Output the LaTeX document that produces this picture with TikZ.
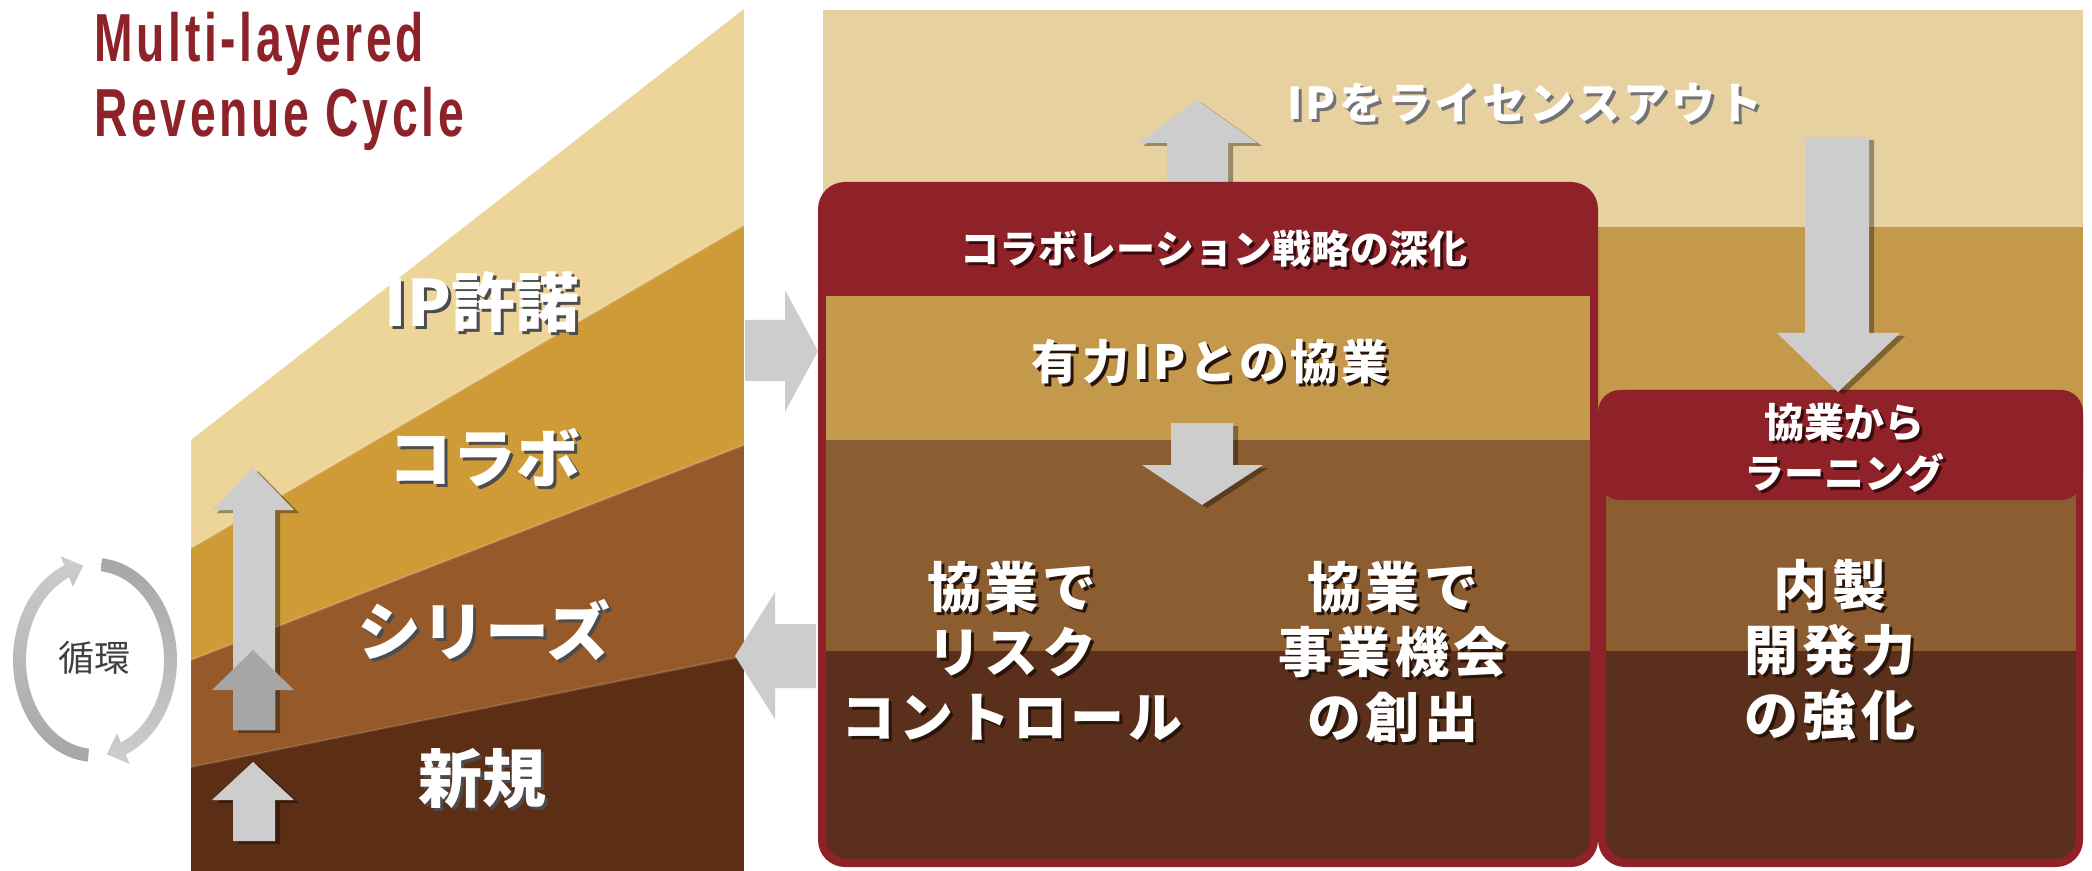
\documentclass[tikz,border=0pt]{standalone}
\usepackage{fontspec}
\setmainfont{Liberation Sans}
\newfontfamily\titlefont[LetterSpace=8]{Liberation Sans}
\newfontfamily\jp{Noto Sans CJK JP}
\newfontfamily\jpsp[LetterSpace=8]{Noto Sans CJK JP}
\newfontfamily\jpspb[LetterSpace=6]{Noto Sans CJK JP}
\usetikzlibrary{shadows}
\definecolor{titlered}{RGB}{142,34,41}
\definecolor{tanL}{RGB}{237,212,153}
\definecolor{goldL}{RGB}{206,155,55}
\definecolor{brownL}{RGB}{150,90,42}
\definecolor{darkL}{RGB}{92,46,22}
\definecolor{tanR}{RGB}{232,209,160}
\definecolor{goldR}{RGB}{196,153,75}
\definecolor{brownR}{RGB}{139,93,49}
\definecolor{darkR}{RGB}{90,47,27}
\definecolor{boxred}{RGB}{143,34,41}
\definecolor{agray}{RGB}{205,205,205}
\definecolor{adark}{RGB}{166,166,166}
\definecolor{shdred}{RGB}{60,10,14}
\definecolor{shdbrown}{RGB}{40,20,8}
\tikzset{
  txt/.style={inner sep=0pt, align=center},
  garrow/.style={fill=agray},
  sharrow/.style={fill=agray, drop shadow={shadow xshift=2.5pt, shadow yshift=-1.5pt, opacity=0.35, fill=black}},
}
\newcommand\shtxt[5]{%
  \node[txt, font=#3, text=#4] at ([shift={(3,3)}]#2) {#5};
  \node[txt, font=#3, text=white] (#1) at (#2) {#5};}
\begin{document}
\begin{tikzpicture}[x=0.5pt,y=-0.5pt]
\useasboundingbox (0,0) rectangle (2092,871);
\fill[white] (0,0) rectangle (2092,871);

% ---------- title
\node[inner sep=0pt, anchor=base west, text=titlered, font=\titlefont\bfseries\fontsize{34pt}{37pt}\selectfont] (t1) at (94,62) {\scalebox{0.68}[1]{Multi-layered}};
\node[inner sep=0pt, anchor=base west, text=titlered, font=\titlefont\bfseries\fontsize{34pt}{37pt}\selectfont] (t2) at (94,137) {\scalebox{0.68}[1]{Revenue Cycle}};

% ---------- left panel
\begin{scope}
\clip (191,440) -- (744,9) -- (744,871) -- (191,871) -- cycle;
\fill[tanL] (191,0) rectangle (744,871);
\fill[goldL] (191,548) -- (744,225) -- (744,871) -- (191,871) -- cycle;
\fill[brownL] (191,660) -- (744,445) -- (744,871) -- (191,871) -- cycle;
\fill[darkL] (191,767) -- (744,656) -- (744,871) -- (191,871) -- cycle;
\draw[white, opacity=0.25, line width=1pt] (191,548) -- (744,225);
\draw[white, opacity=0.2, line width=1pt] (191,660) -- (744,445);
\draw[white, opacity=0.15, line width=1pt] (191,767) -- (744,656);
\end{scope}

% arrows in left panel
\fill[sharrow] (233,730) -- (233,510) -- (212,510) -- (253,468) -- (294,510) -- (275,510) -- (275,730) -- cycle;
\fill[adark] (233,730) -- (233,690) -- (212,690) -- (253,650) -- (294,690) -- (275,690) -- (275,730) -- cycle;
\fill[sharrow] (233,841) -- (233,800) -- (212,800) -- (253,762) -- (294,800) -- (275,800) -- (275,841) -- cycle;

% cycle arrows
\begin{scope}[shift={(95,660)}]
\shade[top color=agray, bottom color=adark]
  (-265:82 and 102) arc[start angle=-265, end angle=-112, x radius=82, y radius=102]
  -- (-112:92 and 112) -- (-99:75.5 and 95.5) -- (-112:59 and 79)
  -- (-112:69 and 89) arc[start angle=-112, end angle=-265, x radius=69, y radius=89] -- cycle;
\shade[top color=adark, bottom color=agray]
  (-85:82 and 102) arc[start angle=-85, end angle=68, x radius=82, y radius=102]
  -- (68:92 and 112) -- (81:75.5 and 95.5) -- (68:59 and 79)
  -- (68:69 and 89) arc[start angle=68, end angle=-85, x radius=69, y radius=89] -- cycle;
\end{scope}
\node[txt, text=black!75, font=\jp\fontsize{18pt}{20pt}\selectfont] (cyc) at (94,658) {循環};

% left panel labels
\shtxt{ipk}{482,302}{\jp\bfseries\fontsize{32pt}{38pt}\selectfont}{black!70}{IP許諾}
\shtxt{colab}{484,458}{\jp\bfseries\fontsize{32pt}{38pt}\selectfont}{black!70}{コラボ}
\shtxt{series}{484,630}{\jp\bfseries\fontsize{32pt}{38pt}\selectfont}{black!70}{シリーズ}
\shtxt{new}{482,779}{\jp\bfseries\fontsize{32pt}{38pt}\selectfont}{black!70}{新規}

% between-panel arrows
\fill[garrow] (745,320) -- (785,320) -- (785,290) -- (818,351) -- (785,412) -- (785,381) -- (745,381) -- cycle;
\fill[garrow] (816,624) -- (775,624) -- (775,592) -- (735,656) -- (775,719) -- (775,688) -- (816,688) -- cycle;

% ---------- right panel background
\fill[tanR] (823,10) rectangle (2083,227);
\fill[goldR] (823,227) rectangle (2083,430);

% up arrow above the box
\fill[sharrow] (1167,190) -- (1167,143) -- (1138,143) -- (1197,100) -- (1257,143) -- (1228,143) -- (1228,190) -- cycle;

% left box
\fill[boxred, rounded corners=13.5pt] (818,182) rectangle (1598,867);
\begin{scope}
\clip[rounded corners=11pt] (826,250) rectangle (1590,859);
\fill[goldR] (826,296) rectangle (1590,440);
\fill[brownR] (826,440) rectangle (1590,651);
\fill[darkR] (826,651) rectangle (1590,860);
\end{scope}

% right box
\fill[boxred, rounded corners=13.5pt] (1598,390) rectangle (2083,867);
\begin{scope}
\clip[rounded corners=11pt] (1606,440) rectangle (2076,859);
\fill[brownR] (1606,470) rectangle (2076,651);
\fill[darkR] (1606,651) rectangle (2076,860);
\end{scope}
\fill[boxred, rounded corners=11pt] (1598,390) rectangle (2083,500);

% arrows in right panel
\fill[sharrow] (1171,423) -- (1233,423) -- (1233,465) -- (1263,465) -- (1202,505) -- (1142,465) -- (1171,465) -- cycle;
\fill[sharrow] (1805,137) -- (1869,137) -- (1869,333) -- (1900,333) -- (1838,392) -- (1777,333) -- (1805,333) -- cycle;

% right panel texts
\shtxt{lic}{1525,103}{\jpsp\bfseries\fontsize{22pt}{26pt}\selectfont}{black!55}{IPをライセンスアウト}
\shtxt{deep}{1214,249}{\jp\bfseries\fontsize{19.5pt}{24pt}\selectfont}{shdred}{コラボレーション戦略の深化}
\shtxt{strong}{1210,362}{\jpsp\bfseries\fontsize{23.5pt}{28pt}\selectfont}{shdbrown}{有力IPとの協業}
\shtxt{risk}{1012,651}{\jpspb\bfseries\fontsize{27pt}{32.5pt}\selectfont}{shdbrown}{協業で\\リスク\\コントロール}
\shtxt{biz}{1393,652}{\jpsp\bfseries\fontsize{27pt}{32.5pt}\selectfont}{shdbrown}{協業で\\事業機会\\の創出}
\shtxt{learn}{1844,448}{\jp\bfseries\fontsize{20pt}{25.5pt}\selectfont}{shdred}{協業から\\ラーニング}
\shtxt{inhouse}{1830,650}{\jpsp\bfseries\fontsize{27pt}{32.5pt}\selectfont}{shdbrown}{内製\\開発力\\の強化}
\end{tikzpicture}
\end{document}
